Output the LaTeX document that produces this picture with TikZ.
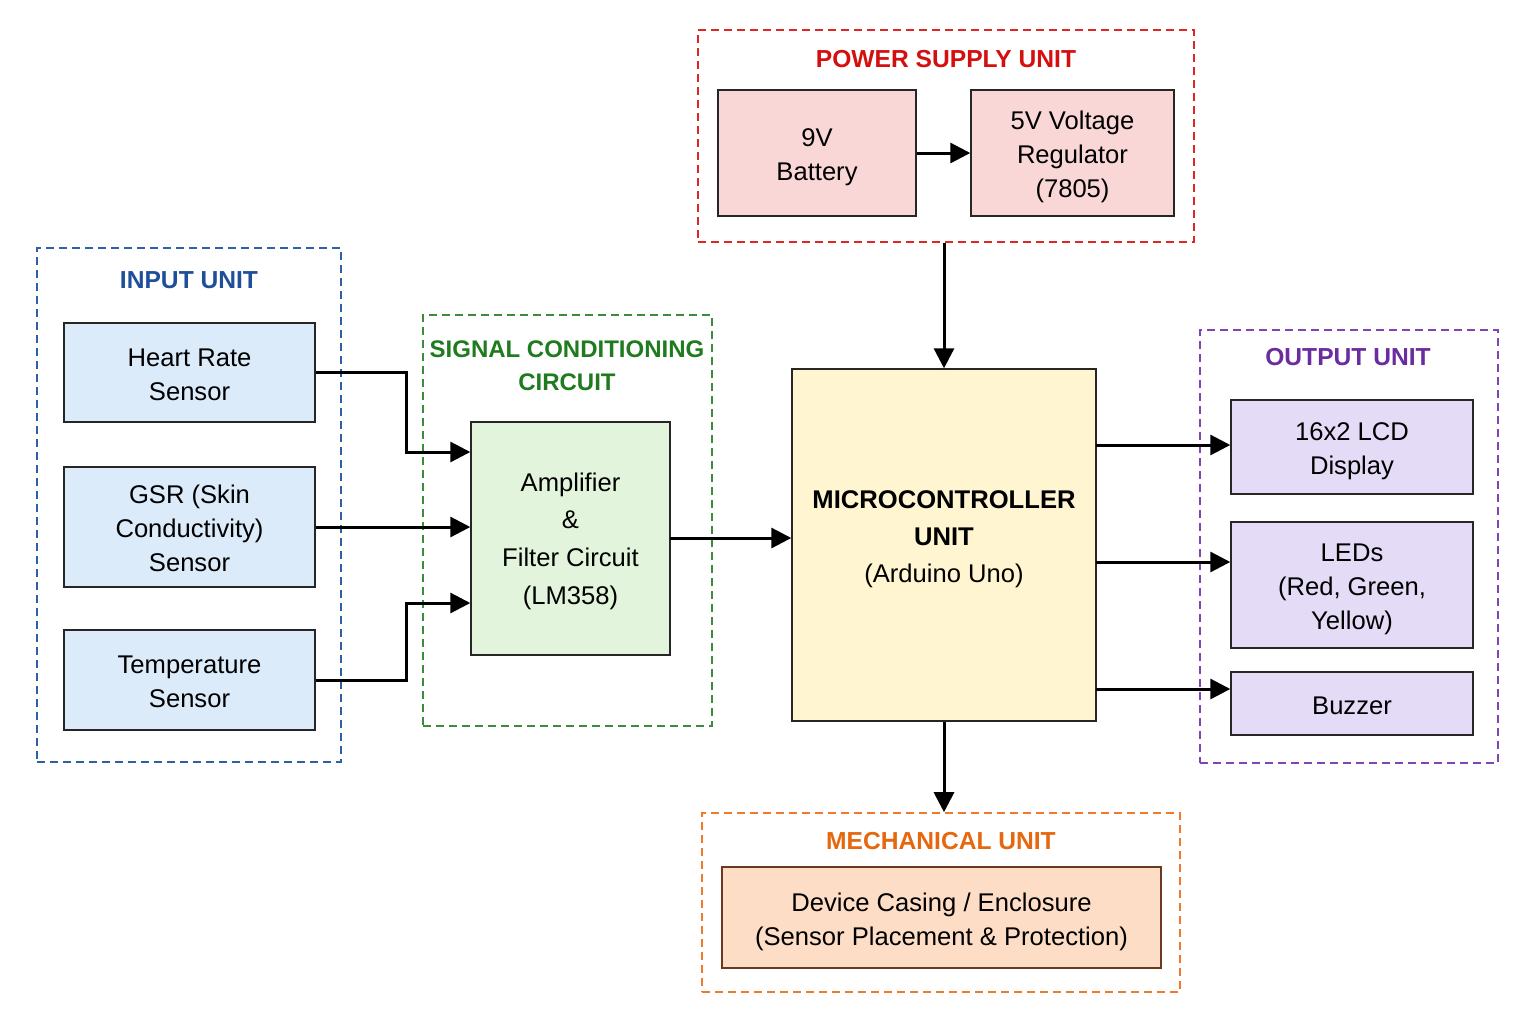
\documentclass[tikz,border=0pt]{standalone}
\usepackage{fontspec}
\setmainfont{Liberation Sans}
\usetikzlibrary{fit,arrows.meta}
\definecolor{inT}{HTML}{1F4F99}\definecolor{inD}{HTML}{2F5FA5}\definecolor{inF}{HTML}{DCEBFA}
\definecolor{grT}{HTML}{1E7B1E}\definecolor{grD}{HTML}{3C8C3C}\definecolor{grF}{HTML}{E3F4DD}
\definecolor{rdT}{HTML}{D40F0F}\definecolor{rdD}{HTML}{E02525}\definecolor{rdF}{HTML}{FAD7D7}
\definecolor{ylF}{HTML}{FFF5D0}
\definecolor{puT}{HTML}{6A2C9E}\definecolor{puD}{HTML}{7D45B5}\definecolor{puF}{HTML}{E4DBF7}
\definecolor{orT}{HTML}{E5670E}\definecolor{orD}{HTML}{EE7A2A}\definecolor{orF}{HTML}{FDDDC6}\definecolor{orB}{HTML}{6B3A1E}
\begin{document}
\begin{tikzpicture}[x=0.5pt,y=-0.5pt,
  box/.style={draw=black!85,line width=0.7pt,inner sep=0pt,align=center,
     font=\fontsize{12.8}{17}\selectfont,text depth=4pt},
  lone/.style={text height=14.7pt},
  ltwo/.style={text height=31.7pt},
  lthree/.style={text height=48.7pt},
  grp/.style={draw,dashed,dash pattern=on 4pt off 2.5pt,line width=0.8pt,inner sep=0pt},
  ttl/.style={font=\fontsize{12.3}{16}\selectfont\bfseries,align=center},
  arr/.style={line width=1.5pt,-{Triangle[length=10pt,width=10pt]}}]
\useasboundingbox[fill=white] (0,0) rectangle (1536,1024);
% groups
\node[grp,draw=inD,fit={(37,248) (341,762)}] (ingrp) {};
\node[grp,draw=grD,fit={(423,315) (712,726)}] (sggrp) {};
\node[grp,draw=rdD,fit={(698,30) (1194,242)}] (psu) {};
\node[grp,draw=puD,fit={(1200,330) (1498,763)}] (outgrp) {};
\node[grp,draw=orD,fit={(702,813) (1180,992)}] (mech) {};
% titles
\node[ttl,text=inT] (tin) at (189,280) {INPUT UNIT};
\node[ttl,text=grT,font=\fontsize{12}{16.5}\selectfont\bfseries] (tsg) at (567,366) {SIGNAL CONDITIONING\\CIRCUIT};
\node[ttl,text=rdT] (tps) at (946,59) {POWER SUPPLY UNIT};
\node[ttl,text=puT] (tout) at (1348,357) {OUTPUT UNIT};
\node[ttl,text=orT] (tmech) at (941,841) {MECHANICAL UNIT};
% boxes
\node[box,ltwo,fill=inF,minimum width=125.5pt,minimum height=49.5pt] (hr) at (189.5,372.5) {Heart Rate\\Sensor};
\node[box,lthree,fill=inF,minimum width=125.5pt,minimum height=60pt] (gsr) at (189.5,527) {GSR (Skin\\Conductivity)\\Sensor};
\node[box,ltwo,fill=inF,minimum width=125.5pt,minimum height=50pt] (temp) at (189.5,680) {Temperature\\Sensor};
\node[box,fill=grF,text height=70pt,minimum width=99.5pt,minimum height=116.5pt,font=\fontsize{12.8}{18.9}\selectfont] (amp) at (570.5,538.5) {Amplifier\\\&\\Filter Circuit\\(LM358)};
\node[box,ltwo,fill=rdF,minimum width=99pt,minimum height=63pt] (bat) at (817,153) {9V\\Battery};
\node[box,lthree,fill=rdF,minimum width=101.5pt,minimum height=63pt] (reg) at (1072.5,153) {5V Voltage\\Regulator\\(7805)};
\node[box,fill=ylF,minimum width=152pt,minimum height=176pt] (mcu) at (944,545) {};
\node[font=\fontsize{12.8}{18.5}\selectfont,align=center] (mcut) at (944,539) {\textbf{MICROCONTROLLER}\\\textbf{UNIT}\\(Arduino Uno)};
\node[box,ltwo,fill=puF,minimum width=121pt,minimum height=47pt] (lcd) at (1352,447) {16x2 LCD\\Display};
\node[box,lthree,fill=puF,minimum width=121pt,minimum height=63pt] (leds) at (1352,585) {LEDs\\(Red, Green,\\Yellow)};
\node[box,lone,fill=puF,minimum width=121pt,minimum height=31.5pt] (buz) at (1352,703.5) {Buzzer};
\node[box,ltwo,fill=orF,draw=orB,minimum width=219.5pt,minimum height=50.5pt] (case) at (941.5,917.5) {Device Casing / Enclosure\\(Sensor Placement \& Protection)};
% junction coordinates
\coordinate (j1) at (406,452);
\coordinate (j3) at (406,603);
\coordinate (ampo) at (670,538);
\coordinate (o1) at (1096,445);
\coordinate (o2) at (1096,562);
\coordinate (o3) at (1096,689);
% connectors
\draw[arr] (hr.east) -| (j1) -- (amp.west |- j1);
\draw[arr] (gsr.east) -- (amp.west |- gsr.east);
\draw[arr] (temp.east) -| (j3) -- (amp.west |- j3);
\draw[arr] (ampo) -- (mcu.west |- ampo);
\draw[arr] (bat.east) -- (reg.west);
\draw[arr] (psu.south -| mcu.north) -- (mcu.north);
\draw[arr] (mcu.south) -- (mech.north -| mcu.south);
\draw[arr] (o1) -- (lcd.west |- o1);
\draw[arr] (o2) -- (leds.west |- o2);
\draw[arr] (o3) -- (buz.west |- o3);
\end{tikzpicture}
\end{document}
